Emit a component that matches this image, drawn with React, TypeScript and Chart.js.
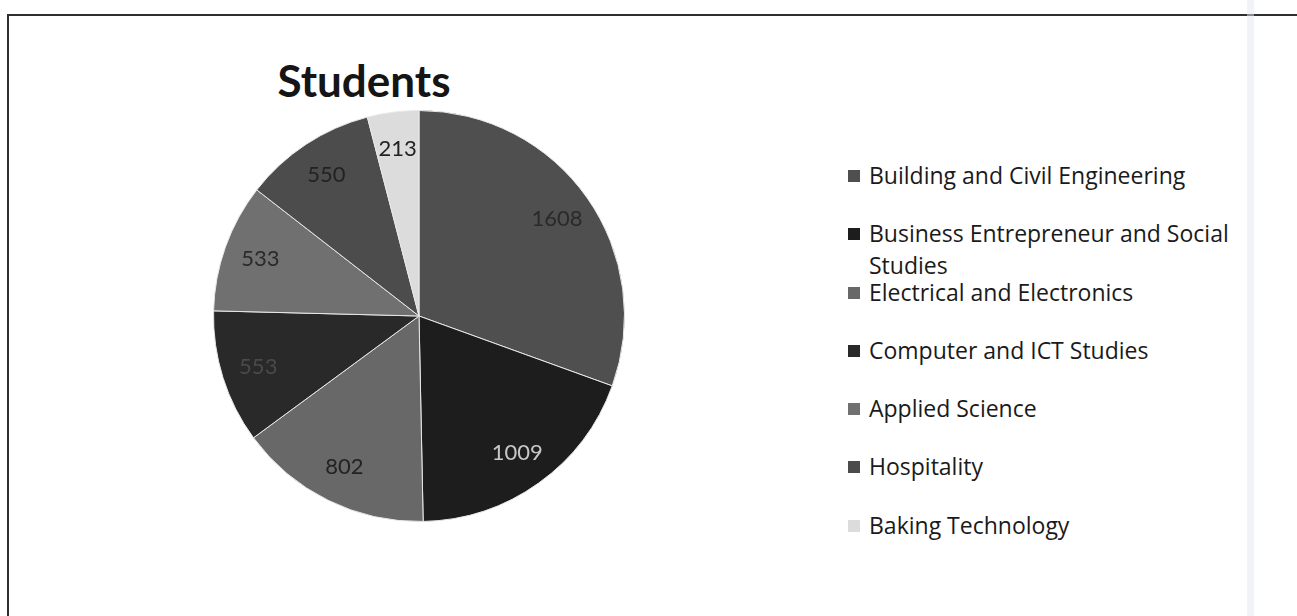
import React, { useEffect, useRef } from "react";
import { Chart, registerables } from "chart.js";

Chart.register(...registerables);

const TITLE = "Students";
const CATEGORIES: (string | string[])[] = [
  "Building and Civil Engineering",
  ["Business Entrepreneur and Social", "Studies"],
  "Electrical and Electronics",
  "Computer and ICT Studies",
  "Applied Science",
  "Hospitality",
  "Baking Technology",
];
const STUDENTS = [1608, 1009, 802, 553, 533, 550, 213];
const SLICE_COLORS = ["#4f4f4f", "#1d1d1d", "#686868", "#292929", "#707070", "#4c4c4c", "#dcdcdc"];
const LABEL_COLORS = ["#2a2a2a", "#c8c8c8", "#222222", "#4a4a4a", "#2a2a2a", "#222222", "#222222"];

const FONT = "Lato, 'Open Sans', sans-serif";
const LEGEND_FONT = "'Open Sans', Lato, sans-serif";

const valueLabels = {
  id: "valueLabels",
  afterDatasetsDraw(chart: any) {
    const ctx = chart.ctx;
    const meta = chart.getDatasetMeta(0);
    const data = chart.data.datasets[0].data as number[];
    ctx.save();
    ctx.font = `22px ${FONT}`;
    ctx.textAlign = "center";
    ctx.textBaseline = "middle";
    meta.data.forEach((arc: any, i: number) => {
      const p = arc.getProps(["x", "y", "startAngle", "endAngle", "outerRadius"], true);
      const mid = (p.startAngle + p.endAngle) / 2;
      const r = p.outerRadius * 0.82;
      const x = p.x + Math.cos(mid) * r;
      const y = p.y + Math.sin(mid) * r;
      ctx.fillStyle = LABEL_COLORS[i];
      ctx.fillText(String(data[i]), x, y);
    });
    ctx.restore();
  },
};

export default function App() {
  const canvasRef = useRef<HTMLCanvasElement | null>(null);

  useEffect(() => {
    if (!canvasRef.current) return;
    const chart = new Chart(canvasRef.current, {
      type: "pie",
      data: {
        labels: CATEGORIES as any,
        datasets: [
          {
            data: STUDENTS,
            backgroundColor: SLICE_COLORS,
            borderColor: "#e8e8e8",
            borderWidth: 1,
          },
        ],
      },
      options: {
        animation: false,
        responsive: false,
        maintainAspectRatio: false,
        layout: { padding: 0 },
        plugins: {
          legend: { display: false },
          title: { display: false },
          tooltip: { enabled: false },
        },
      },
      plugins: [valueLabels],
    });
    return () => chart.destroy();
  }, []);

  return (
    <div
      style={{
        position: "fixed",
        left: 0,
        top: 0,
        width: 1297,
        height: 616,
        background: "#ffffff",
        overflow: "hidden",
        fontFamily: FONT,
      }}
    >
      <div
        style={{
          position: "absolute",
          left: 7,
          top: 14,
          width: 1310,
          height: 640,
          border: "2px solid #2e2e2e",
          boxSizing: "border-box",
        }}
      />
      <div
        style={{
          position: "absolute",
          left: 1247,
          top: 0,
          width: 7,
          height: 616,
          background: "rgba(228,231,242,0.5)",
        }}
      />
      <div
        style={{
          position: "absolute",
          left: 214,
          top: 51,
          width: 300,
          textAlign: "center",
          fontSize: 44,
          fontWeight: 700,
          color: "#151515",
          lineHeight: "58px",
        }}
      >
        {TITLE}
      </div>
      <canvas
        ref={canvasRef}
        width={412}
        height={412}
        style={{ position: "absolute", left: 213, top: 110, width: 412, height: 412 }}
      />
      <div style={{ position: "absolute", left: 846, top: 160, fontFamily: LEGEND_FONT }}>
        {CATEGORIES.map((c, i) => {
          const lines = Array.isArray(c) ? c : [c];
          return (
            <div key={i} style={{ position: "relative", height: 58.3 }}>
              <span
                style={{
                  position: "absolute",
                  left: 2,
                  top: 10,
                  width: 12,
                  height: 12,
                  background: SLICE_COLORS[i],
                }}
              />
              <div
                style={{
                  position: "absolute",
                  left: 23,
                  top: -1,
                  fontSize: 23,
                  lineHeight: "32px",
                  color: "#1a1a1a",
                  whiteSpace: "nowrap",
                }}
              >
                {lines.map((l, j) => (
                  <div key={j}>{l}</div>
                ))}
              </div>
            </div>
          );
        })}
      </div>
    </div>
  );
}
